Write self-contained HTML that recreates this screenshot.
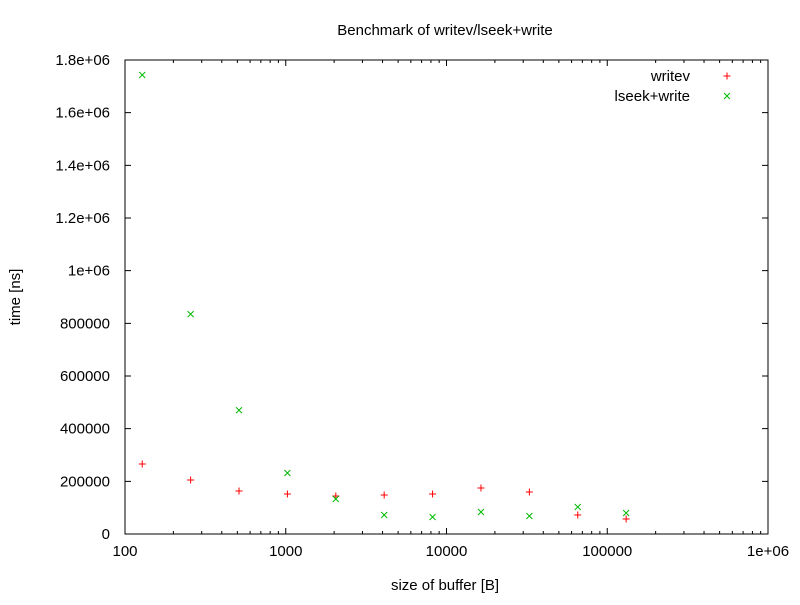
<!DOCTYPE html>
<html><head><meta charset="utf-8"><style>
body{margin:0;background:#fff}
svg text{font-family:"Liberation Sans",sans-serif;font-size:15px;fill:#000}
</style></head><body>
<svg id="c" width="800" height="600" xmlns="http://www.w3.org/2000/svg">
<rect width="800" height="600" fill="#fff"/>
<text x="445" y="35" text-anchor="middle">Benchmark of writev/lseek+write</text>
<text x="445" y="590" text-anchor="middle">size of buffer [B]</text>
<text transform="translate(20,297) rotate(-90)" text-anchor="middle">time [ns]</text>
<g id="axes"></g><g id="marks"></g>
<text x="690" y="81" text-anchor="end">writev</text>
<text x="690" y="101" text-anchor="end">lseek+write</text>
</svg>
<script>
const sizes=[128,256,512,1024,2048,4096,8192,16384,32768,65536,131072];
const writev=[265800,205000,163300,151900,144300,148100,151900,174700,159500,72200,57000];
const lseekWrite=[1743000,835000,470000,231600,132900,72200,64600,83500,68400,102500,79700];
const yTicks=[0,200000,400000,600000,800000,1000000,1200000,1400000,1600000,1800000];
const yLabels=["0","200000","400000","600000","800000","1e+06","1.2e+06","1.4e+06","1.6e+06","1.8e+06"];
const xTicks=[100,1000,10000,100000,1000000];
const xLabels=["100","1000","10000","100000","1e+06"];
const L=125,R=768,T=60,B=534;
const X=v=>L+(Math.log10(v)-2)/4*(R-L);
const Y=v=>B-v/1800000*(B-T);
const NS="http://www.w3.org/2000/svg";
function mk(p,t,a){const e=document.createElementNS(NS,t);for(const k in a)e.setAttribute(k,a[k]);p.appendChild(e);return e;}
const ax=document.getElementById('axes'),mg=document.getElementById('marks');
const fr=mk(ax,'rect',{x:L,y:T,width:R-L,height:B-T,fill:'none',stroke:'#000','stroke-width':1});


yTicks.forEach((v,i)=>{const y=Y(v);
mk(ax,'path',{d:`M${L} ${y}h6M${R} ${y}h-6`,stroke:'#000'});
const t=mk(ax,'text',{x:L-15,y:y+5,'text-anchor':'end'});t.textContent=yLabels[i];

});
xTicks.forEach((v,i)=>{const x=X(v);
mk(ax,'path',{d:`M${x} ${B}v-6M${x} ${T}v6`,stroke:'#000'});
const t=mk(ax,'text',{x:x,y:B+22,'text-anchor':'middle'});t.textContent=xLabels[i];


if(i<xTicks.length-1)for(let m=2;m<10;m++){const xm=X(v*m);mk(ax,'path',{d:`M${xm} ${B}v-3M${xm} ${T}v3`,stroke:'#000'});}});
function plus(x,y,c,n){const p=mk(mg,'path',{d:`M${x-3.5} ${y}h7M${x} ${y-3.5}v7`,stroke:c,'stroke-width':1});

}
function cross(x,y,c,n){const p=mk(mg,'path',{d:`M${x-3} ${y-3}l6 6M${x-3} ${y+3}l6 -6`,stroke:c,'stroke-width':1});

}
sizes.forEach((s,i)=>{plus(X(s),Y(writev[i]),'#f00','point-writev');cross(X(s),Y(lseekWrite[i]),'#0b0','point-lseek-write');});
plus(727,76,'#f00','legend-marker-writev');
cross(727,96,'#0b0','legend-marker-lseek-write');
</script>
</body></html>
